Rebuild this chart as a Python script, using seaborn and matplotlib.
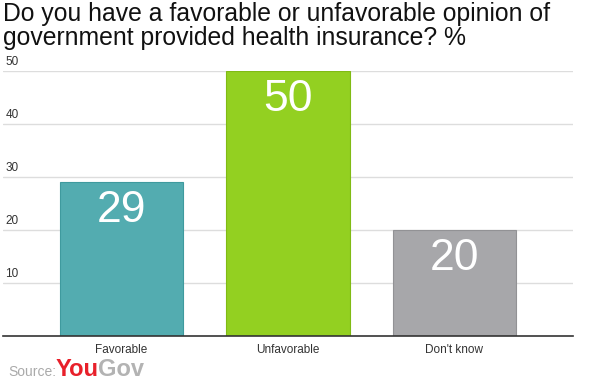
import numpy as np
import pandas as pd
import matplotlib
matplotlib.use("Agg")
import matplotlib.pyplot as plt
import seaborn as sns

# Dados
categorias = ["Favorable", "Unfavorable", "Don't know"]
valores = [29, 50, 20]
cores = ["#53acb0", "#93d021", "#a7a7aa"]
bordas = ["#3f9a9e", "#80bb14", "#929295"]
ticks_y = [10, 20, 30, 40, 50]

sns.set_style("white")
plt.rcParams["font.family"] = ["Arial", "Liberation Sans", "DejaVu Sans"]

df = pd.DataFrame({"categoria": categorias, "valor": valores})

fig = plt.figure(figsize=(6, 3.85), dpi=100)
ax = fig.add_axes([3 / 600, 1 - 336 / 385, 570 / 600, (336 - 71) / 385])

sns.barplot(data=df, x="categoria", y="valor", hue="categoria", palette=cores,
            saturation=1, width=0.74, legend=False, ax=ax, zorder=3)
for barra, borda in zip(ax.patches, bordas):
    barra.set_edgecolor(borda)
    barra.set_linewidth(0.8)

ax.set_xlim(-0.712, 2.712)
ax.set_ylim(0, 50)
ax.set_xlabel("")
ax.set_ylabel("")

# Grade horizontal
for t in ticks_y:
    ax.axhline(t, color="#dddddd", lw=1, zorder=1)
ax.set_yticks([])
ax.tick_params(axis="x", length=0, pad=6, labelsize=8.5, labelcolor="#333333")

for lado in ["top", "right", "left"]:
    ax.spines[lado].set_visible(False)
ax.spines["bottom"].set_color("#333333")
ax.spines["bottom"].set_linewidth(1.2)
ax.spines["bottom"].set_zorder(4)

# Rótulos dos eixos (acima das linhas)
for t in ticks_y:
    ax.text(0.004, t + 0.6, str(t), transform=ax.get_yaxis_transform(),
            fontsize=8.5, color="#333333", ha="left", va="bottom")

# Valores dentro das barras
for i, v in enumerate(valores):
    ax.text(i, v - 5.4, str(v), ha="center", va="center", color="white",
            fontsize=32, zorder=5)

fig.text(3 / 600, 1 - 2 / 385,
         "Do you have a favorable or unfavorable opinion of\ngovernment provided health insurance? %",
         ha="left", va="top", fontsize=17.8, color="#111111", linespacing=1.0)

fig.text(8 / 600, 1 - 372 / 385, "Source:", ha="left", va="center",
         fontsize=10, color="#aaaaaa")
fig.text(56 / 600, 1 - 369 / 385, "You", ha="left", va="center",
         fontsize=17, color="#e8202a", fontweight="bold")
fig.text(98 / 600, 1 - 369 / 385, "Gov", ha="left", va="center",
         fontsize=17, color="#b3b3b3", fontweight="bold")

fig.savefig("out.png", dpi=100)
